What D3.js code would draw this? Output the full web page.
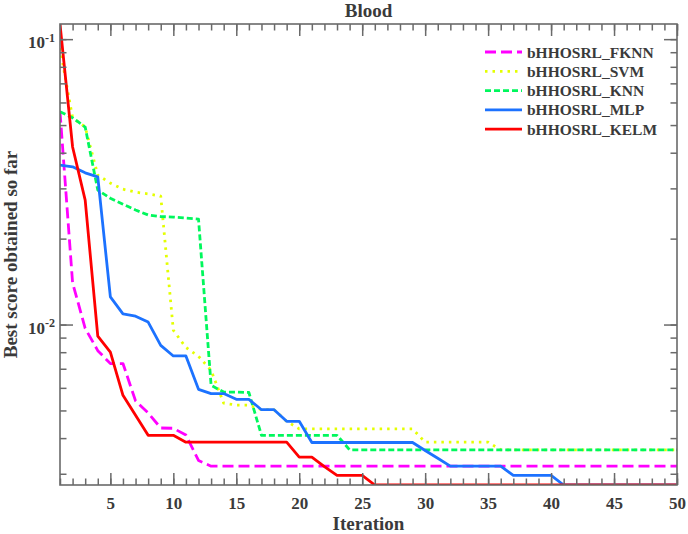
<!DOCTYPE html>
<html>
<head>
<meta charset="utf-8">
<script src="https://cdn.jsdelivr.net/npm/d3@7"></script>
<style>
    body { margin: 0; background: #fff; }
    text { font-family: 'Liberation Serif', 'Times New Roman', serif; font-weight: bold; }
</style>
</head>
<body>
<script>
// Iterations 1..50
const iterations = d3.range(1, 51)

const seriesNames = ['bHHOSRL_FKNN', 'bHHOSRL_SVM', 'bHHOSRL_KNN', 'bHHOSRL_MLP', 'bHHOSRL_KELM']

const fknn = [0.0557, 0.0140, 0.0097, 0.0081, 0.0073, 0.0073, 0.0054, 0.0049, 0.00434, 0.00433,
    0.0041, 0.00334, 0.00319, 0.00319, 0.00319, 0.00319, 0.00319, 0.00319, 0.00319, 0.00319,
    0.00319, 0.00319, 0.00319, 0.00319, 0.00319, 0.00319, 0.00319, 0.00319, 0.00319, 0.00319,
    0.00319, 0.00319, 0.00319, 0.00319, 0.00319, 0.00319, 0.00319, 0.00319, 0.00319, 0.00319,
    0.00319, 0.00319, 0.00319, 0.00319, 0.00319, 0.00319, 0.00319, 0.00319, 0.00319, 0.00319]

const svm = [0.093, 0.053, 0.0492, 0.0334, 0.0313, 0.0298, 0.0291, 0.0287, 0.0282, 0.00955,
    0.00831, 0.00774, 0.00691, 0.0053, 0.00522, 0.00522, 0.00503, 0.00503, 0.00458, 0.00431,
    0.00431, 0.00431, 0.00431, 0.00431, 0.00431, 0.00431, 0.00431, 0.00431, 0.00431, 0.00387,
    0.00387, 0.00387, 0.00387, 0.00387, 0.00387, 0.00364, 0.00364, 0.00364, 0.00364, 0.00364,
    0.00364, 0.00364, 0.00364, 0.00364, 0.00364, 0.00364, 0.00364, 0.00364, 0.00364, 0.00364]

const knn = [0.0557, 0.0530, 0.0492, 0.0296, 0.0277, 0.0264, 0.0252, 0.0242, 0.0239, 0.0238,
    0.0236, 0.0234, 0.00612, 0.00580, 0.00580, 0.00578, 0.00409, 0.00409, 0.00409, 0.00409,
    0.00409, 0.00409, 0.00409, 0.00364, 0.00364, 0.00364, 0.00364, 0.00364, 0.00364, 0.00364,
    0.00364, 0.00364, 0.00364, 0.00364, 0.00364, 0.00364, 0.00364, 0.00364, 0.00364, 0.00364,
    0.00364, 0.00364, 0.00364, 0.00364, 0.00364, 0.00364, 0.00364, 0.00364, 0.00364, 0.00364]

const mlp = [0.0362, 0.0357, 0.0340, 0.0329, 0.0125, 0.0109, 0.0107, 0.0102, 0.00845, 0.00776,
    0.00776, 0.00593, 0.00573, 0.00573, 0.00547, 0.00547, 0.00503, 0.00503, 0.00458, 0.00458,
    0.00386, 0.00386, 0.00386, 0.00386, 0.00386, 0.00386, 0.00386, 0.00386, 0.00386, 0.00362,
    0.00340, 0.00319, 0.00319, 0.00319, 0.00319, 0.00319, 0.00296, 0.00296, 0.00296, 0.00296,
    0.00274, 0.00274, 0.00274, 0.00274, 0.00274, 0.00274, 0.00274, 0.00274, 0.00274, 0.00274]

const kelm = [0.113, 0.0419, 0.0273, 0.0091, 0.0080, 0.00565, 0.00481, 0.00409, 0.00409, 0.00409,
    0.00387, 0.00387, 0.00387, 0.00387, 0.00387, 0.00387, 0.00387, 0.00387, 0.00387, 0.00343,
    0.00343, 0.00318, 0.00296, 0.00296, 0.00296, 0.00274, 0.00274, 0.00274, 0.00274, 0.00274,
    0.00274, 0.00274, 0.00274, 0.00274, 0.00274, 0.00274, 0.00274, 0.00274, 0.00274, 0.00274,
    0.00274, 0.00274, 0.00274, 0.00274, 0.00274, 0.00274, 0.00274, 0.00274, 0.00274, 0.00274]

const xTicks = [5, 10, 15, 20, 25, 30, 35, 40, 45, 50]
const yMajor = [0.01, 0.1]
const yMajorLabels = [['10', '-2'], ['10', '-1']]

const styles = [
    {color: '#ff00ff', dash: '11,5'},
    {color: '#e4ff00', dash: '2.5,5'},
    {color: '#00f75c', dash: '6,3'},
    {color: '#1c72ff', dash: null},
    {color: '#ff0000', dash: null}
]

const width = 688
const height = 534
const margin = {top: 24, right: 11, bottom: 49, left: 60}
const axisColor = '#6a6a6a'
const textColor = '#3a3a3a'

const allSeries = [fknn, svm, knn, mlp, kelm]

const svg = d3.select('body')
    .append('svg')
    .attr('width', width)
    .attr('height', height)

const x = d3.scaleLinear()
    .domain([1, 50])
    .range([margin.left, width - margin.right])

const y = d3.scaleLog()
    .domain([d3.min(allSeries, s => d3.min(s)), d3.max(allSeries, s => d3.max(s))])
    .range([height - margin.bottom, margin.top])

const x0 = margin.left, x1 = width - margin.right
const y0 = height - margin.bottom, y1 = margin.top

// minor y ticks inside the domain
const yMinor = y.ticks().filter(v => v >= y.domain()[0] && v <= y.domain()[1])

svg.append('clipPath')
    .attr('id', 'plot-clip')
    .append('rect')
    .attr('x', x0)
    .attr('y', y1)
    .attr('width', x1 - x0)
    .attr('height', y0 - y1)

// lines
const line = d3.line()
    .x((d, i) => x(iterations[i]))
    .y(d => y(d))

const lines = svg.append('g').attr('clip-path', 'url(#plot-clip)')
allSeries.forEach((s, k) => {
    lines.append('path')
        .datum(s)
        .attr('d', line)
        .attr('fill', 'none')
        .attr('stroke', styles[k].color)
        .attr('stroke-width', 2.8)
        .attr('stroke-dasharray', styles[k].dash)
        .attr('stroke-linejoin', 'round')
})

// axes (ticks point inward, box on)
function styleAxis(g) {
    g.select('.domain').remove()
    g.selectAll('line').attr('stroke', axisColor).attr('stroke-width', 1.5)
}

svg.append('g')
    .attr('transform', `translate(0,${y0})`)
    .call(d3.axisBottom(x).tickValues(iterations).tickSize(-6.5).tickFormat(''))
    .call(styleAxis)
svg.append('g')
    .attr('transform', `translate(0,${y0})`)
    .call(d3.axisBottom(x).tickValues(xTicks).tickSize(-12))
    .call(styleAxis)
    .call(g => g.selectAll('text')
        .attr('fill', textColor)
        .style('font-size', '17px')
        .attr('dy', null)
        .attr('y', 24))

svg.append('g')
    .attr('transform', `translate(0,${y1})`)
    .call(d3.axisTop(x).tickValues(iterations).tickSize(-6.5).tickFormat(''))
    .call(styleAxis)
svg.append('g')
    .attr('transform', `translate(0,${y1})`)
    .call(d3.axisTop(x).tickValues(xTicks).tickSize(-12).tickFormat(''))
    .call(styleAxis)

svg.append('g')
    .attr('transform', `translate(${x0},0)`)
    .call(d3.axisLeft(y).tickValues(yMinor).tickSize(-6.5).tickFormat(''))
    .call(styleAxis)
svg.append('g')
    .attr('transform', `translate(${x0},0)`)
    .call(d3.axisLeft(y).tickValues(yMajor).tickSize(-13).tickFormat(''))
    .call(styleAxis)
svg.append('g')
    .attr('transform', `translate(${x1},0)`)
    .call(d3.axisRight(y).tickValues(yMinor).tickSize(-6.5).tickFormat(''))
    .call(styleAxis)
svg.append('g')
    .attr('transform', `translate(${x1},0)`)
    .call(d3.axisRight(y).tickValues(yMajor).tickSize(-13).tickFormat(''))
    .call(styleAxis)

// y labels as 10^n
yMajor.forEach((v, i) => {
    const t = svg.append('text')
        .attr('x', x0 - 5)
        .attr('y', y(v) + 9)
        .attr('text-anchor', 'end')
        .attr('fill', textColor)
        .style('font-size', '17px')
    t.append('tspan').text(yMajorLabels[i][0])
    t.append('tspan')
        .attr('dy', -6.5)
        .style('font-size', '12px')
        .text(yMajorLabels[i][1])
})

// box
svg.append('rect')
    .attr('x', x0)
    .attr('y', y1)
    .attr('width', x1 - x0)
    .attr('height', y0 - y1)
    .attr('fill', 'none')
    .attr('stroke', axisColor)
    .attr('stroke-width', 1.6)

// titles
svg.append('text')
    .attr('x', (x0 + x1) / 2)
    .attr('y', 17)
    .attr('text-anchor', 'middle')
    .attr('fill', textColor)
    .style('font-size', '19px')
    .text('Blood')

svg.append('text')
    .attr('x', (x0 + x1) / 2)
    .attr('y', 530)
    .attr('text-anchor', 'middle')
    .attr('fill', textColor)
    .style('font-size', '19px')
    .text('Iteration')

svg.append('text')
    .attr('transform', `translate(16.5,${(y0 + y1) / 2}) rotate(-90)`)
    .attr('text-anchor', 'middle')
    .attr('fill', textColor)
    .style('font-size', '19px')
    .text('Best score obtained so far')

// legend
const legend = svg.append('g').attr('transform', 'translate(485,52)')
seriesNames.forEach((name, k) => {
    const row = legend.append('g').attr('transform', `translate(0,${k * 19.3})`)
    row.append('line')
        .attr('x1', 0)
        .attr('x2', 37)
        .attr('stroke', styles[k].color)
        .attr('stroke-width', 2.8)
        .attr('stroke-dasharray', styles[k].dash)
    row.append('text')
        .attr('x', 42)
        .attr('y', 5.5)
        .attr('fill', textColor)
        .style('font-size', '15.5px')
        .text(name)
})
</script>
</body>
</html>
